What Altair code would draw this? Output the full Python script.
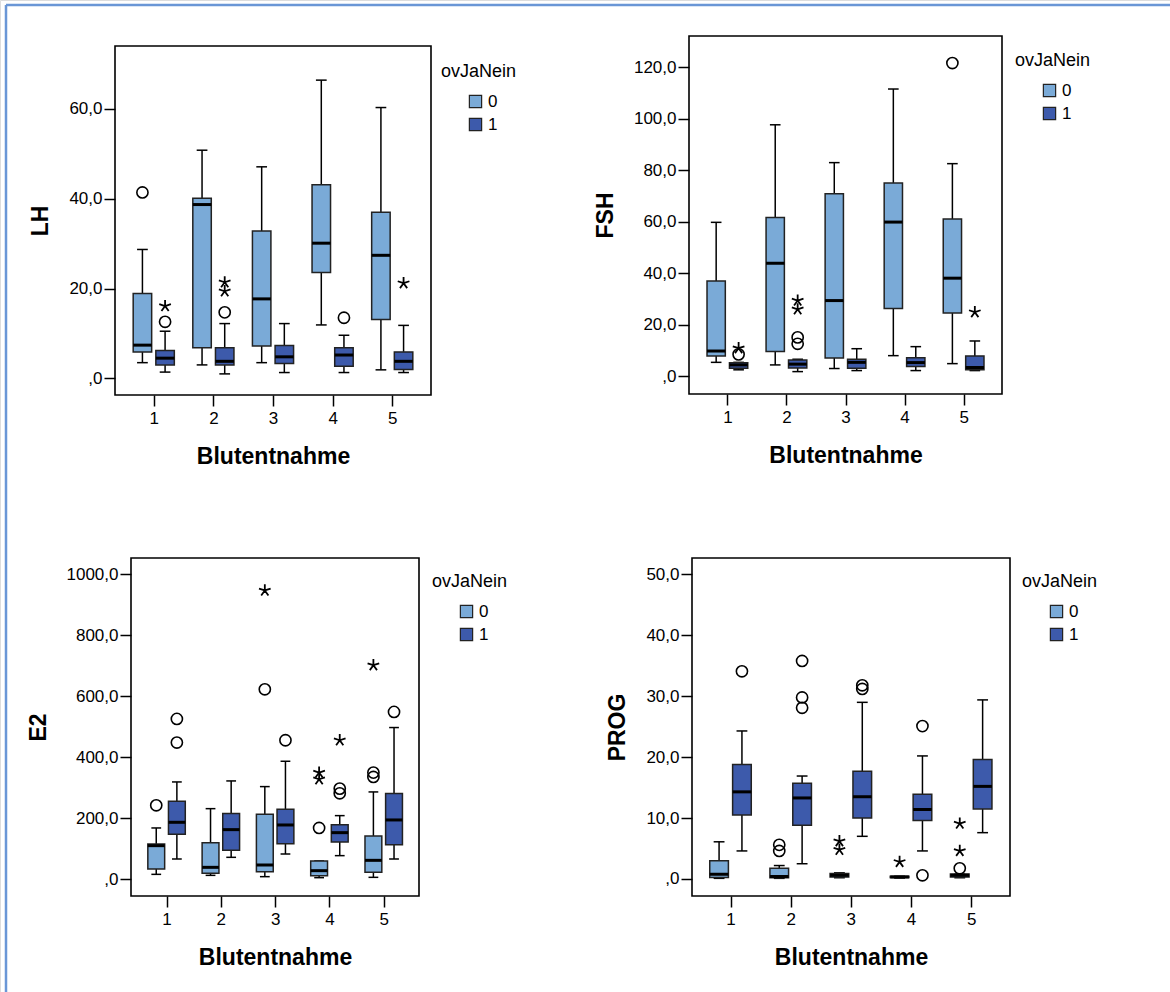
import altair as alt
import pandas as pd

W, H = 1170, 992

blutentnahme = [1, 2, 3, 4, 5]
ov_groups = [0, 1]

# Box statistics per Blutentnahme 1..5: [lower whisker, Q1, median, Q3, upper whisker]
LH_box_0 = [[3.5, 5.9, 7.4, 18.9, 28.7], [3.0, 6.8, 38.7, 40.1, 50.8], [3.5, 7.2, 17.7, 32.8, 47.1],
            [11.9, 23.6, 30.1, 43.1, 66.4], [1.9, 13.1, 27.4, 37.0, 60.3]]
LH_box_1 = [[1.4, 3.0, 4.5, 6.2, 10.5], [1.0, 3.0, 3.8, 6.8, 12.2], [1.3, 3.3, 4.8, 7.3, 12.2],
            [1.3, 2.7, 5.2, 6.8, 9.6], [1.3, 2.0, 3.8, 5.9, 11.8]]
LH_circles = [(1, 0, 41.4), (1, 1, 12.6), (2, 1, 14.7), (4, 1, 13.5)]
LH_stars = [(1, 1, 16.1), (2, 1, 21.4), (2, 1, 19.4), (5, 1, 21.2)]

FSH_box_0 = [[5.4, 7.9, 9.8, 37.0, 59.8], [4.4, 9.6, 43.9, 61.7, 97.7], [3.0, 7.1, 29.4, 70.9, 83.0],
             [8.0, 26.3, 59.9, 75.1, 111.6], [4.9, 24.6, 38.1, 61.1, 82.6]]
FSH_box_1 = [[2.5, 3.1, 4.4, 5.2, 5.4], [1.8, 3.2, 4.7, 6.3, 6.6], [2.2, 3.1, 5.4, 6.6, 10.7],
             [2.2, 3.8, 5.3, 7.2, 11.5], [2.2, 2.5, 3.4, 7.9, 13.7]]
FSH_circles = [(1, 1, 8.5), (2, 1, 15.1), (2, 1, 12.6), (5, 0, 121.7)]
FSH_stars = [(1, 1, 10.9), (2, 1, 29.4), (2, 1, 26.0), (5, 1, 24.9)]

E2_box_0 = [[15.3, 32.9, 109.5, 115.0, 167.6], [12.0, 18.6, 38.3, 119.4, 231.0], [7.7, 24.1, 46.0, 212.5, 303.4],
            [4.4, 11.0, 27.4, 59.0, 59.1], [5.5, 21.9, 61.3, 141.3, 285.9]]
E2_box_1 = [[65.7, 146.8, 186.2, 255.2, 318.7], [71.2, 94.2, 162.1, 214.7, 322.0], [82.1, 116.1, 177.4, 229.0, 386.6],
            [76.7, 121.6, 152.2, 178.5, 208.1], [65.7, 112.8, 193.9, 280.4, 497.3]]
E2_circles = [(1, 0, 242.0), (1, 1, 448.0), (1, 1, 525.7), (3, 0, 623.0), (3, 1, 455.6), (4, 0, 167.6),
              (4, 1, 296.8), (4, 1, 281.5), (5, 0, 349.4), (5, 0, 335.2), (5, 1, 548.7)]
E2_stars = [(3, 0, 947.4), (4, 0, 349.4), (4, 0, 327.5), (4, 1, 455.6), (5, 0, 702.1)]

PROG_box_0 = [[0.1, 0.22, 0.77, 3.0, 6.1], [0.1, 0.2, 0.4, 1.75, 2.2], [0.2, 0.3, 0.6, 0.9, 1.0],
              [0.15, 0.22, 0.33, 0.44, 0.44], [0.2, 0.3, 0.6, 0.8, 0.8]]
PROG_box_1 = [[4.6, 10.5, 14.3, 18.8, 24.3], [2.5, 8.8, 13.3, 15.7, 16.9], [7.0, 10.0, 13.5, 17.7, 29.0],
              [4.6, 9.6, 11.4, 13.9, 20.2], [7.6, 11.5, 15.2, 19.6, 29.4]]
PROG_circles = [(1, 1, 34.1), (2, 0, 5.6), (2, 0, 4.6), (2, 1, 35.8), (2, 1, 29.8), (2, 1, 28.1),
                (3, 1, 31.8), (3, 1, 31.2), (4, 1, 25.1), (4, 1, 0.6), (5, 0, 1.75)]
PROG_stars = [(3, 0, 6.2), (3, 0, 4.8), (4, 0, 2.8), (5, 0, 9.1), (5, 0, 4.6)]

LIGHT = "#7aaad7"
DARK = "#3d5aab"
BORDER = "#6a96d6"
FONT = "Liberation Sans"
STAR = "M0,0L0,-1M0,0L0.951,-0.309M0,0L-0.951,-0.309M0,0L0.588,0.809M0,0L-0.588,0.809"

# layout of each panel (pixel placement of plot frames and legends)
panels = [
    dict(name="LH", box0=LH_box_0, box1=LH_box_1, circ=LH_circles, star=LH_stars,
         xr=[115, 431], yr=[395, 46], xdom=[0.35, 5.65], ydom=[-3.7, 74.0],
         yticks=[0, 20, 40, 60], leg=(441, 63)),
    dict(name="FSH", box0=FSH_box_0, box1=FSH_box_1, circ=FSH_circles, star=FSH_stars,
         xr=[689, 1002], yr=[394, 36], xdom=[0.35, 5.65], ydom=[-6.9, 132.2],
         yticks=[0, 20, 40, 60, 80, 100, 120], leg=(1015, 52)),
    dict(name="E2", box0=E2_box_0, box1=E2_box_1, circ=E2_circles, star=E2_stars,
         xr=[131, 419], yr=[896, 558], xdom=[0.345, 5.65], ydom=[-55.8, 1054.0],
         yticks=[0, 200, 400, 600, 800, 1000], leg=(432, 573)),
    dict(name="PROG", box0=PROG_box_0, box1=PROG_box_1, circ=PROG_circles, star=PROG_stars,
         xr=[692, 1010], yr=[896, 558], xdom=[0.36, 5.645], ydom=[-2.8, 52.7],
         yticks=[0, 10, 20, 30, 40, 50], leg=(1022, 573)),
]

XPOS = "datum.B + (datum.g == 0 ? -0.19 : 0.19)"


def make_panel(p):
    rows = []
    for g, box in ((0, p["box0"]), (1, p["box1"])):
        for b, (lo, q1, med, q3, hi) in zip(blutentnahme, box):
            rows.append(dict(B=b, g=g, lo=lo, q1=q1, med=med, q3=q3, hi=hi))
    df = pd.DataFrame(rows)
    circ = pd.DataFrame(p["circ"], columns=["B", "g", "v"])
    star = pd.DataFrame(p["star"], columns=["B", "g", "v"])
    frame = pd.DataFrame([dict(x0=p["xdom"][0], x1=p["xdom"][1], y0=p["ydom"][0], y1=p["ydom"][1])])

    xs = alt.Scale(domain=p["xdom"], range=p["xr"], nice=False, zero=False)
    ys = alt.Scale(domain=p["ydom"], range=p["yr"], nice=False, zero=False)
    xaxis = alt.Axis(orient="bottom", offset=-(H - p["yr"][0]), values=blutentnahme, format="d",
                     grid=False, domain=False, tickSize=11, tickWidth=1.5, tickColor="black",
                     labelFontSize=17, labelPadding=4, labelColor="black", labelFont=FONT,
                     titleFontSize=23, titleFontWeight="bold", titlePadding=19, titleColor="black",
                     titleFont=FONT)
    yaxis = alt.Axis(orient="left", offset=-p["xr"][0], values=p["yticks"],
                     labelExpr="datum.value == 0 ? ',0' : replace(format(datum.value, '.1f'), '.', ',')",
                     grid=False, domain=False, tickSize=11, tickWidth=1.5, tickColor="black",
                     labelFontSize=17, labelPadding=2, labelColor="black", labelFont=FONT,
                     titleFontSize=23, titleFontWeight="bold", titlePadding=16, titleColor="black",
                     titleFont=FONT)

    def X(f):
        return alt.X(f, type="quantitative", scale=xs, axis=xaxis, title="Blutentnahme")

    def Y(f):
        return alt.Y(f, type="quantitative", scale=ys, axis=yaxis, title=p["name"])

    fr = alt.Chart(frame).mark_rect(filled=False, stroke="black", strokeWidth=1.6).encode(
        x=X("x0"), x2="x1", y=Y("y0"), y2="y1")

    base = alt.Chart(df).transform_calculate(xc=XPOS).transform_calculate(
        xl="datum.xc - 0.155", xr="datum.xc + 0.155", cl="datum.xc - 0.09", cr="datum.xc + 0.09")

    wl = base.mark_rule(color="black", strokeWidth=1.5).encode(x=X("xc"), y=Y("lo"), y2="q1")
    wu = base.mark_rule(color="black", strokeWidth=1.5).encode(x=X("xc"), y=Y("q3"), y2="hi")
    cl = base.mark_rule(color="black", strokeWidth=1.5).encode(x=X("cl"), x2="cr", y=Y("lo"))
    cu = base.mark_rule(color="black", strokeWidth=1.5).encode(x=X("cl"), x2="cr", y=Y("hi"))
    legend = alt.Legend(orient="none", legendX=p["leg"][0], legendY=p["leg"][1], title="ovJaNein",
                        titleFontSize=18, titleFontWeight="normal", titleColor="black", titleFont=FONT,
                        labelFontSize=17, labelColor="black", labelFont=FONT,
                        symbolType="square", symbolSize=150, symbolStrokeColor="#222",
                        symbolStrokeWidth=1.2, symbolOffset=26, labelOffset=4,
                        titlePadding=12, rowPadding=4, padding=0, symbolOpacity=1)
    bx = base.mark_rect(stroke="#222", strokeWidth=1.5).encode(
        x=X("xl"), x2="xr", y=Y("q1"), y2="q3",
        color=alt.Color("g:N", scale=alt.Scale(domain=ov_groups, range=[LIGHT, DARK]), legend=legend))
    md = base.mark_rule(color="black", strokeWidth=3).encode(x=X("xl"), x2="xr", y=Y("med"))
    oc = alt.Chart(circ).transform_calculate(xc=XPOS).mark_point(
        shape="circle", filled=False, color="black", strokeWidth=1.6, size=125, opacity=1).encode(
        x=X("xc"), y=Y("v"))
    os_ = alt.Chart(star).transform_calculate(xc=XPOS).mark_point(
        shape=STAR, filled=False, color="black", strokeWidth=1.8, size=150, opacity=1).encode(
        x=X("xc"), y=Y("v"))
    return alt.layer(fr, wl, wu, cl, cu, bx, md, oc, os_)


one = pd.DataFrame({"k": [0]})
border_left = alt.Chart(one).mark_rule(color=BORDER, strokeWidth=2.5).encode(
    x=alt.value(6), y=alt.value(5), y2=alt.value(H))
border_top = alt.Chart(one).mark_rule(color=BORDER, strokeWidth=2.5).encode(
    x=alt.value(6), x2=alt.value(W), y=alt.value(5))

chart = alt.layer(border_left, border_top, *[make_panel(p) for p in panels]).resolve_scale(
    x="independent", y="independent", color="independent"
).properties(
    width=W, height=H, padding=0, autosize=alt.AutoSizeParams(type="none"), background="white"
).configure_view(strokeWidth=0).configure(font=FONT)

chart.save("out.html", embed_options={"renderer": "svg", "actions": False})
